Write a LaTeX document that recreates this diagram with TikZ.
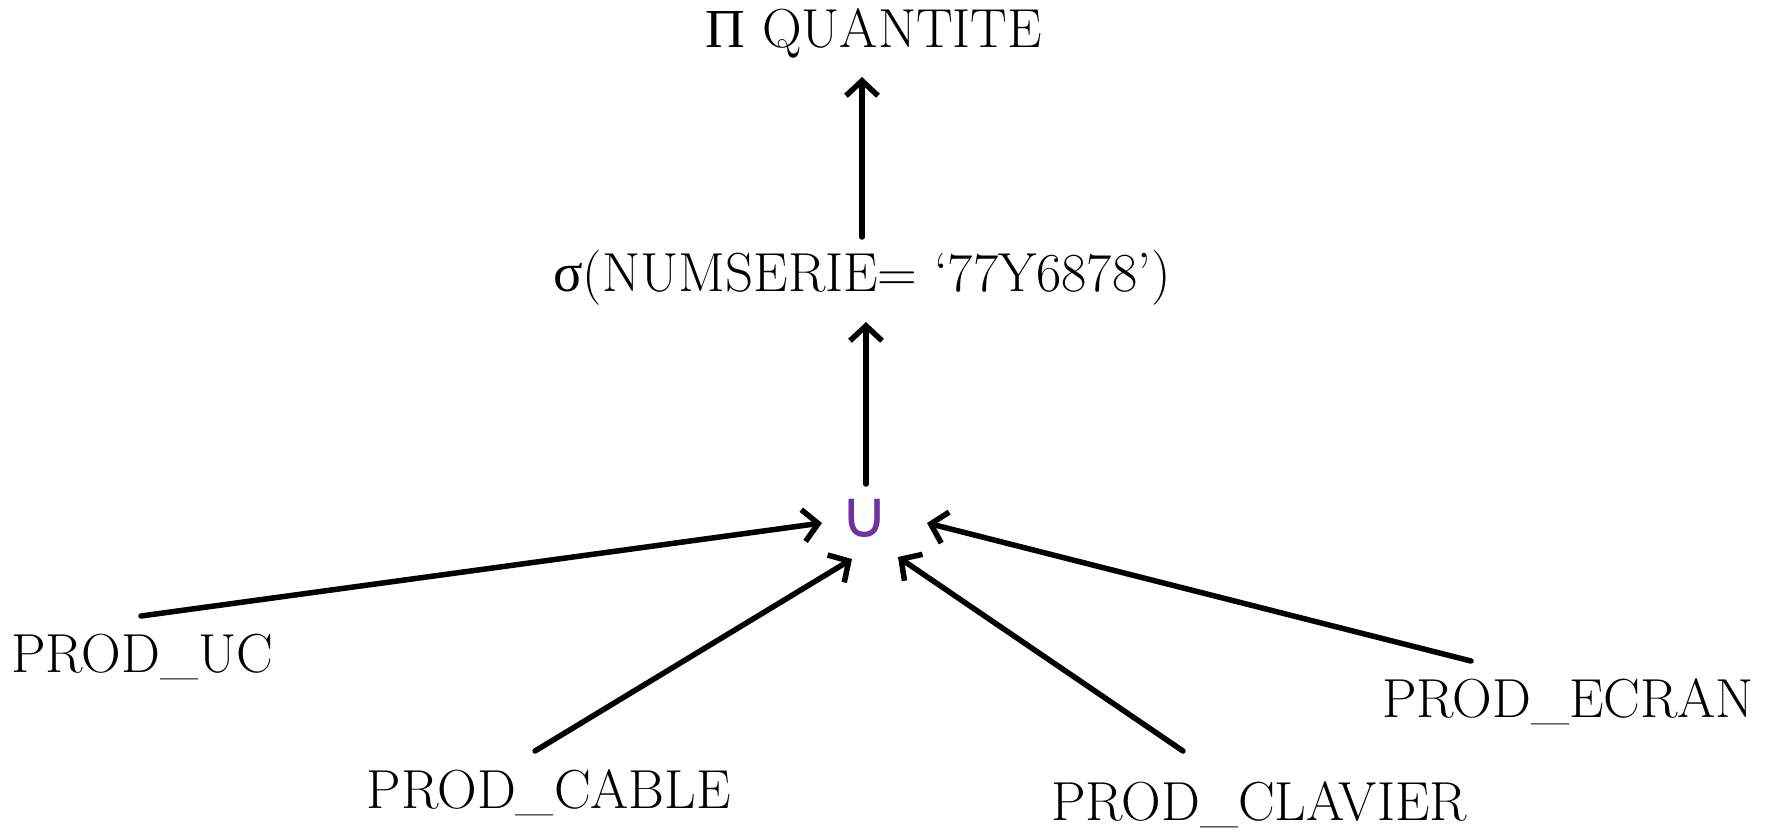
\documentclass[tikz,border=0pt]{standalone}
\usepackage{fontspec}
\newfontfamily\grk{Liberation Serif}
\newfontfamily\symf{DejaVu Sans}
\usetikzlibrary{arrows.meta}
\definecolor{unionpurple}{HTML}{7030A0}
\begin{document}
\begin{tikzpicture}[x=1pt,y=-1pt,
  lbl/.style={inner sep=0pt,anchor=base,font=\fontsize{55}{66}\selectfont},
  conn/.style={line width=5.5pt,line cap=round,line join=round,
    -{Straight Barb[length=15pt,width=32pt,line width=5.5pt]}}]
\useasboundingbox[fill=white] (0,0) rectangle (1772,834);
% nodes
\node[lbl] (proj) at (874,48) {{\grk Π} QUANTITE};
\node[lbl] (sel) at (862,291) {{\grk σ}(NUMSERIE= ‘77Y6878’)};
\node[inner sep=0pt,text=unionpurple,font=\fontsize{66}{76}\symf] (uni) at (865,518) {∪};
\node[lbl] (uc) at (142,672) {PROD\_UC};
\node[lbl] (cable) at (549,808) {PROD\_CABLE};
\node[lbl] (clavier) at (1259,820) {PROD\_CLAVIER};
\node[lbl] (ecran) at (1568,717) {PROD\_ECRAN};
% arrow end points
\coordinate (a1s) at (862,237); \coordinate (a1e) at (862,77);
\coordinate (a2s) at (866,484); \coordinate (a2e) at (866,322);
\coordinate (a3s) at (141,616); \coordinate (a3e) at (822,523);
\coordinate (a4s) at (535,751); \coordinate (a4e) at (852,559);
\coordinate (a5s) at (1183,751); \coordinate (a5e) at (898,557);
\coordinate (a6s) at (1471,661); \coordinate (a6e) at (927,523);
% connectors
\draw[conn] (a1s) -- (a1e);
\draw[conn] (a2s) -- (a2e);
\draw[conn] (a3s) -- (a3e);
\draw[conn] (a4s) -- (a4e);
\draw[conn] (a5s) -- (a5e);
\draw[conn] (a6s) -- (a6e);
\end{tikzpicture}
\end{document}
